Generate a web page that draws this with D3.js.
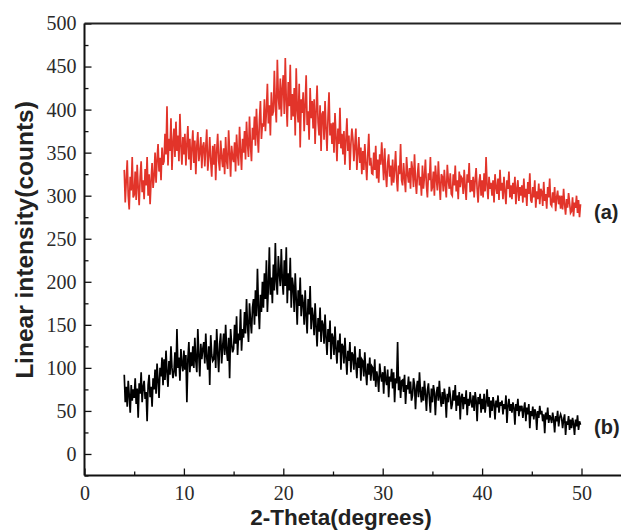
<!DOCTYPE html>
<html>
  <head>
    <meta charset="utf-8">
    <title>xrd</title>
    <script src="https://d3js.org/d3.v7.min.js"></script>
    <style>
      body { margin: 0; background: #fff; }
      .ttl { font-family: "Liberation Sans", Arial, sans-serif; font-weight: bold; fill: #222; }
    </style>
  </head>
  <body>
    <div id="wrapper"></div>
    <script>
      // scan grid: 2-theta from 4.0 to 49.9 deg, 0.1 deg per reading
      var thetaStart = 4.0;
      var thetaStep = 0.1;

      // (a) red scan, counts, 10 readings per degree
      var countsA = [
        330,292,318,341,300,284,322,306,345,298,
        301,328,295,336,310,289,322,340,304,318,
        296,331,312,345,300,325,290,318,338,309,
        322,350,315,342,360,328,344,318,356,336,
        340,372,348,404,335,366,352,390,330,361,
        378,345,386,352,370,340,395,358,336,368,
        348,372,335,360,381,342,366,330,355,376,
        338,364,325,358,374,340,350,368,332,357,
        362,334,356,377,329,345,368,340,322,358,
        336,360,318,352,372,340,329,364,345,333,
        355,325,368,340,331,376,350,322,358,344,
        339,362,328,371,348,335,380,352,330,366,
        350,375,342,386,360,345,392,358,340,379,
        365,392,358,401,372,350,388,410,366,384,
        380,412,375,398,430,384,405,370,420,393,
        398,445,405,385,458,415,400,436,392,425,
        440,395,460,410,380,432,404,452,388,418,
        392,425,370,448,400,385,430,356,412,396,
        420,375,405,440,382,398,365,425,390,410,
        378,412,360,398,428,385,370,405,352,395,
        398,365,410,378,352,392,420,370,384,360,
        385,350,396,368,340,378,360,402,355,372,
        348,375,336,365,390,352,370,330,360,378,
        366,340,358,378,330,350,368,338,356,325,
        352,330,360,338,318,348,372,335,344,326,
        325,350,330,358,320,342,315,348,336,362,
        340,318,355,326,310,338,348,322,335,312,
        342,315,330,352,320,305,335,325,360,318,
        312,338,320,304,345,326,315,332,308,340,
        330,310,348,318,302,325,338,312,322,300,
        335,308,322,342,312,298,326,318,345,305,
        310,328,300,335,320,306,340,315,295,325,
        322,305,330,312,298,336,318,308,326,302,
        300,325,312,335,305,318,296,328,310,322,
        320,302,330,310,295,325,315,338,304,318,
        305,322,298,318,332,308,292,316,325,300,
        318,298,326,305,345,312,296,322,308,315,
        300,318,292,325,310,302,320,295,330,306,
        315,296,322,305,290,318,308,328,298,312,
        296,315,302,322,290,308,318,294,310,300,
        312,292,320,298,308,288,316,302,326,295,
        292,310,298,318,286,305,296,314,290,308,
        305,288,316,294,302,285,310,298,320,290,
        288,304,292,310,282,298,306,290,300,285,
        300,284,308,290,278,296,286,303,292,280,
        282,298,276,292,286,300,280,295,275,290
      ];

      // (b) black scan
      var countsB = [
        92,60,78,55,85,68,48,80,62,75,
        65,88,58,76,42,82,70,95,60,78,
        85,64,72,38,80,92,66,78,55,88,
        75,98,70,105,85,65,100,90,112,80,
        110,86,120,95,78,108,92,125,100,88,
        95,118,90,145,100,112,85,122,105,96,
        120,98,115,60,110,130,95,118,102,125,
        100,135,108,95,145,115,90,128,110,122,
        130,105,140,112,98,125,80,138,115,108,
        110,132,100,145,118,95,128,140,105,125,
        140,115,150,120,108,135,88,145,128,118,
        122,150,128,160,115,140,132,168,120,145,
        135,165,140,180,150,130,175,155,140,170,
        180,150,190,160,215,170,145,185,165,200,
        170,210,180,225,165,195,240,185,205,175,
        220,190,245,200,185,230,210,195,238,202,
        185,225,195,240,175,210,190,228,170,205,
        195,165,210,180,150,190,172,205,160,185,
        175,150,190,160,140,180,162,195,145,170,
        160,138,175,148,125,158,142,170,130,155,
        150,128,162,135,115,145,130,155,110,140,
        135,115,148,122,105,132,118,140,98,128,
        125,105,135,112,92,120,108,130,95,118,
        115,98,125,105,88,112,100,122,85,110,
        108,90,118,95,80,105,92,112,85,102,
        100,85,110,78,96,88,72,105,92,84,
        95,70,102,86,80,98,66,90,84,99,
        76,95,60,88,82,130,74,90,65,85,
        86,72,92,58,80,75,90,70,84,62,
        68,88,80,52,76,85,66,95,72,60,
        78,62,85,70,50,74,82,64,48,76,
        60,80,72,45,70,78,62,85,65,55,
        72,58,76,66,42,70,60,78,68,52,
        58,74,62,80,50,68,56,72,40,66,
        70,52,66,58,74,45,64,56,72,60,
        54,68,50,72,62,38,66,58,70,48,
        64,52,70,48,60,75,55,66,42,62,
        50,66,58,40,62,54,68,48,60,56,
        62,46,58,52,68,36,56,64,50,58,
        48,60,54,34,58,50,64,44,56,52,
        56,42,52,60,38,54,46,58,30,50,
        44,55,40,52,48,28,50,42,56,46,
        50,38,46,24,48,40,54,36,45,42,
        36,48,40,25,44,38,50,32,42,46,
        42,30,40,46,22,38,34,44,28,40,
        30,42,35,22,40,32,45,28,38,34
      ];

      var xTicks = [0, 10, 20, 30, 40, 50];
      var xMinor = [5, 15, 25, 35, 45];
      var yTicks = [0, 50, 100, 150, 200, 250, 300, 350, 400, 450, 500];
      var yMinor = [-25, 25, 75, 125, 175, 225, 275, 325, 375, 425, 475];

      var width = 621, height = 530;
      var svg = d3.select("#wrapper").append("svg")
        .attr("width", width)
        .attr("height", height);

      var xScale = d3.scaleLinear().domain([0, 50]).range([84.5, 581.5]);
      var yScale = d3.scaleLinear().domain([-25, 500]).range([475.5, 23.5]);
      var xRight = width;

      function toPoints(counts) {
        return counts.map(function(c, i) {
          return [thetaStart + i * thetaStep, c];
        });
      }

      var line = d3.line()
        .x(function(d) { return xScale(d[0]); })
        .y(function(d) { return yScale(d[1]); });

      svg.append("path")
        .datum(toPoints(countsA))
        .attr("fill", "none")
        .attr("stroke", "#e2342a")
        .attr("stroke-width", 1.7)
        .attr("d", line);

      svg.append("path")
        .datum(toPoints(countsB))
        .attr("fill", "none")
        .attr("stroke", "#000")
        .attr("stroke-width", 1.7)
        .attr("d", line);

      function styleTicks(g) {
        g.select(".domain").remove();
        g.selectAll(".tick line").attr("stroke", "#111").attr("stroke-width", 1.3);
        g.selectAll(".tick text")
          .style("font-family", "'Liberation Serif', 'DejaVu Serif', serif")
          .style("font-size", "20px")
          .style("fill", "#2a2a2a");
      }

      // axes, ticks pointing into the frame
      var xAxis = d3.axisBottom(xScale).tickValues(xTicks).tickSize(-7).tickPadding(10).tickFormat(d3.format("d"));
      svg.append("g").attr("transform", "translate(0," + yScale(-25) + ")").call(xAxis).call(styleTicks);
      svg.append("g").attr("transform", "translate(0," + yScale(-25) + ")")
        .call(d3.axisBottom(xScale).tickValues(xMinor).tickSize(-4).tickFormat(""))
        .call(styleTicks);

      var yAxis = d3.axisLeft(yScale).tickValues(yTicks).tickSize(-7).tickPadding(8).tickFormat(d3.format("d"));
      svg.append("g").attr("transform", "translate(" + xScale(0) + ",0)").call(yAxis).call(styleTicks);
      svg.append("g").attr("transform", "translate(" + xScale(0) + ",0)")
        .call(d3.axisLeft(yScale).tickValues(yMinor).tickSize(-4).tickFormat(""))
        .call(styleTicks);

      // frame lines (left, bottom, top; no right side in view)
      svg.append("line").attr("x1", xScale(0)).attr("x2", xScale(0)).attr("y1", yScale(500)).attr("y2", yScale(-25))
        .attr("stroke", "#111").attr("stroke-width", 2);
      svg.append("line").attr("x1", xScale(0)).attr("x2", xRight).attr("y1", yScale(-25)).attr("y2", yScale(-25))
        .attr("stroke", "#111").attr("stroke-width", 2);
      svg.append("line").attr("x1", xScale(0)).attr("x2", xRight).attr("y1", yScale(500)).attr("y2", yScale(500))
        .attr("stroke", "#222").attr("stroke-width", 1.8);

      // titles
      svg.append("text").attr("class", "ttl")
        .attr("x", 341).attr("y", 525)
        .attr("text-anchor", "middle")
        .style("font-size", "22.5px")
        .text("2-Theta(degrees)");

      svg.append("text").attr("class", "ttl")
        .attr("transform", "translate(33,240) rotate(-90)")
        .attr("text-anchor", "middle")
        .style("font-size", "24.5px")
        .text("Linear intensity(counts)");

      svg.append("text").attr("class", "ttl")
        .attr("x", 594).attr("y", 219)
        .style("font-size", "20px")
        .text("(a)");
      svg.append("text").attr("class", "ttl")
        .attr("x", 594).attr("y", 434)
        .style("font-size", "20px")
        .text("(b)");
    </script>
  </body>
</html>
